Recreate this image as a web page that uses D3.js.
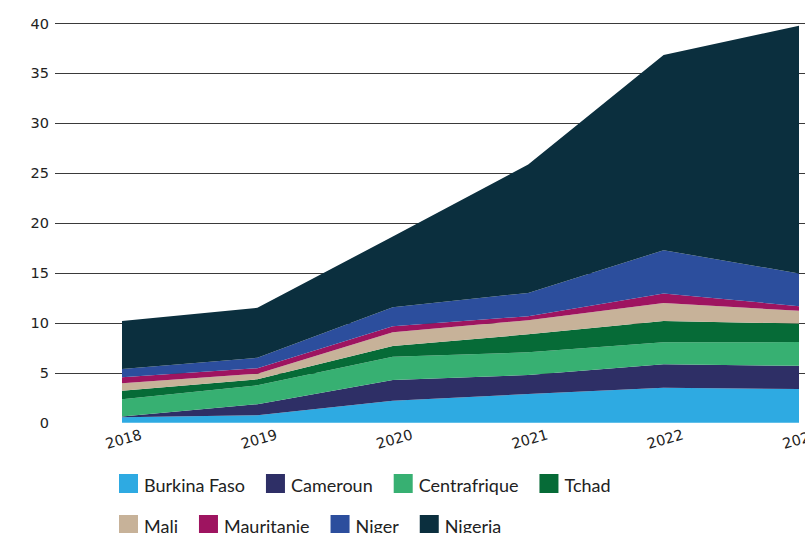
<!DOCTYPE html>
<html>
<head>
<meta charset="utf-8">
<script src="https://cdn.jsdelivr.net/npm/d3@7"></script>
<style>
    body { margin: 0; background: #fff; }
    svg { display: block; }
    .tick-label { font-family: "DejaVu Sans", sans-serif; font-size: 14.5px; fill: #222; }
    .legend-label { font-family: Lato, sans-serif; font-size: 18px; fill: #222; }
</style>
</head>
<body>
<div id="chart"></div>
<script>
// ============================================================================
// STACKED AREA - values per country, 2018-2023
// ============================================================================

const years = [2018, 2019, 2020, 2021, 2022, 2023];
const countries = ['Burkina Faso', 'Cameroun', 'Centrafrique', 'Tchad', 'Mali', 'Mauritanie', 'Niger', 'Nigeria'];
const burkinaFaso  = [0.55, 0.75, 2.2, 2.87, 3.5, 3.37];
const cameroun     = [0.07, 1.1, 2.07, 1.9, 2.35, 2.33];
const centrafrique = [1.73, 1.9, 2.33, 2.28, 2.2, 2.37];
const tchad        = [0.84, 0.6, 1.07, 1.8, 2.13, 1.86];
const mali         = [0.76, 0.55, 1.38, 1.42, 1.82, 1.27];
const mauritanie   = [0.6, 0.55, 0.6, 0.4, 0.95, 0.47];
const niger        = [0.84, 1.05, 1.9, 2.33, 4.32, 3.28];
const nigeria      = [4.8, 5.0, 7.1, 12.85, 19.55, 24.8];
const yTicks = [0, 5, 10, 15, 20, 25, 30, 35, 40];

const seriesValues = [burkinaFaso, cameroun, centrafrique, tchad, mali, mauritanie, niger, nigeria];
const colors = ['#2eaae2', '#2e2f66', '#37b072', '#066b37', '#c7b299', '#9e1460', '#2c4e9d', '#0b2f3e'];

const width = 805, height = 533;
const svg = d3.select('#chart').append('svg')
    .attr('width', width).attr('height', height);

const xScale = d3.scaleLinear().domain([2018, 2023]).range([122, 799]);
const yScale = d3.scaleLinear().domain([0, 40]).range([422.7, 23.3]);

// Table for stack
const table = years.map((y, i) => {
    const row = { year: y };
    countries.forEach((c, j) => { row[c] = seriesValues[j][i]; });
    return row;
});
const stacked = d3.stack().keys(countries)(table);

// Grid (no line at zero)
svg.append('g')
    .selectAll('line')
    .data(yTicks.filter(d => d > 0))
    .join('line')
    .attr('x1', 55).attr('x2', width)
    .attr('y1', d => Math.round(yScale(d)) + 0.5).attr('y2', d => Math.round(yScale(d)) + 0.5)
    .attr('stroke', '#3a3a3a')
    .attr('stroke-width', 1);

// Y labels
svg.append('g')
    .selectAll('text')
    .data(yTicks)
    .join('text')
    .attr('class', 'tick-label')
    .attr('x', 49)
    .attr('y', d => yScale(d))
    .attr('dy', '0.36em')
    .attr('text-anchor', 'end')
    .text(d => d);

// Areas
const area = d3.area()
    .x(d => xScale(d.data.year))
    .y0(d => yScale(d[0]))
    .y1(d => yScale(d[1]));

svg.append('g')
    .selectAll('path')
    .data(stacked)
    .join('path')
    .attr('fill', (d, i) => colors[i])
    .attr('d', area);

// X labels, rotated
svg.append('g')
    .selectAll('text')
    .data(years)
    .join('text')
    .attr('class', 'tick-label')
    .attr('text-anchor', 'middle')
    .attr('transform', d => `translate(${xScale(d) + 3},${444}) rotate(-16)`)
    .text(d => d);

// Legend, two rows
const legendRows = [countries.slice(0, 4), countries.slice(4)];
legendRows.forEach((row, r) => {
    let x = 119;
    const y = 474 + r * 41;
    row.forEach(name => {
        const i = countries.indexOf(name);
        const g = svg.append('g').attr('transform', `translate(${x},${y})`);
        g.append('rect')
            .attr('width', 19).attr('height', 19)
            .attr('fill', colors[i]);
        const t = g.append('text')
            .attr('class', 'legend-label')
            .attr('x', 25)
            .attr('y', 17.5)
            .text(name);
        x += 25 + t.node().getComputedTextLength() + 21;
    });
});
</script>
</body>
</html>
